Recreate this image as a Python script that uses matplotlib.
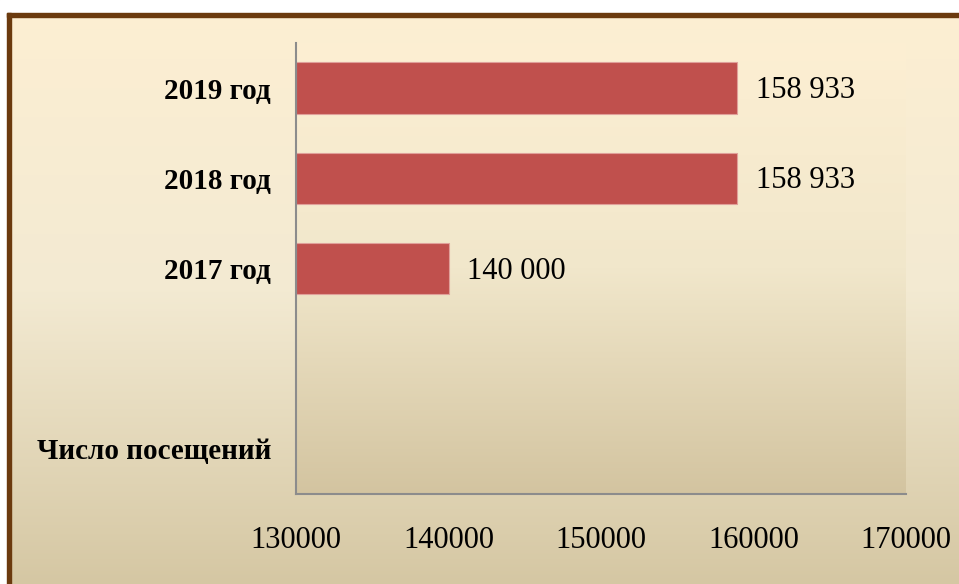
import numpy as np
import matplotlib
matplotlib.use("Agg")
import matplotlib.pyplot as plt
from matplotlib.colors import LinearSegmentedColormap
from matplotlib.patches import Rectangle

categories = ["Число посещений", "", "2017 год", "2018 год", "2019 год"]
visits = [None, None, 140000, 158933, 158933]
x_ticks = [130000, 140000, 150000, 160000, 170000]

plt.rcParams["font.family"] = ["Liberation Serif", "DejaVu Serif"]

fig = plt.figure(figsize=(9.59, 5.84), dpi=100)

# background with gradient and brown frame
bg = fig.add_axes([0, 0, 1, 1], zorder=-10)
bg.set_xlim(0, 959)
bg.set_ylim(584, 0)
bg.axis("off")
fig_cmap = LinearSegmentedColormap.from_list(
    "figbg", [(0, "#fdefd3"), (0.5, "#f3ead2"), (1, "#d5c7a3")], N=1024)
grad = np.linspace(0, 1, 1024).reshape(-1, 1)
bg.imshow(grad, cmap=fig_cmap, extent=[0, 959, 584, 0], aspect="auto",
          interpolation="bilinear")
bg.add_patch(Rectangle((0, 0), 959, 13, color="white", zorder=2))
bg.add_patch(Rectangle((0, 0), 7, 584, color="white", zorder=2))
bg.add_patch(Rectangle((7, 13), 952, 3.5, color="#6b3a0e", zorder=3))
bg.add_patch(Rectangle((7, 13), 4, 571, color="#6b3a0e", zorder=3))

ax = fig.add_axes([0.3087, 0.1541, 0.636, 0.7723])
ax.set_facecolor("none")
plot_cmap = LinearSegmentedColormap.from_list(
    "plotbg", [(0, "#fdefd3"), (0.5, "#f1e7cb"), (1, "#d3c4a0")], N=1024)
ax.imshow(grad, cmap=plot_cmap, extent=[130000, 170000, -0.5, 4.5],
          aspect="auto", interpolation="bilinear", zorder=0)

pos = [i for i, v in enumerate(visits) if v is not None]
vals = [visits[i] for i in pos]
ax.barh(pos, [v - 130000 for v in vals], left=130000, height=0.57,
        color="#c0504d", edgecolor="#e0a09a", linewidth=0.8, zorder=2)
for p, v in zip(pos, vals):
    ax.text(v + 1200, p - 0.03, f"{v:,.0f}".replace(",", " "), va="center",
            ha="left", fontsize=22)

ax.set_xlim(130000, 170000)
ax.set_ylim(-0.5, 4.5)
ax.set_xticks(x_ticks)
ax.set_xticklabels([str(t) for t in x_ticks], fontsize=22)
ax.set_yticks(range(len(categories)))
ax.set_yticklabels(categories, fontsize=21, fontweight="bold")
ax.tick_params(axis="x", length=0, pad=23)
ax.tick_params(axis="y", length=0, pad=18)
for side in ["top", "right"]:
    ax.spines[side].set_visible(False)
for side in ["left", "bottom"]:
    ax.spines[side].set_color("#8c8c8c")
    ax.spines[side].set_linewidth(1.5)

fig.savefig("out.png", dpi=100)
